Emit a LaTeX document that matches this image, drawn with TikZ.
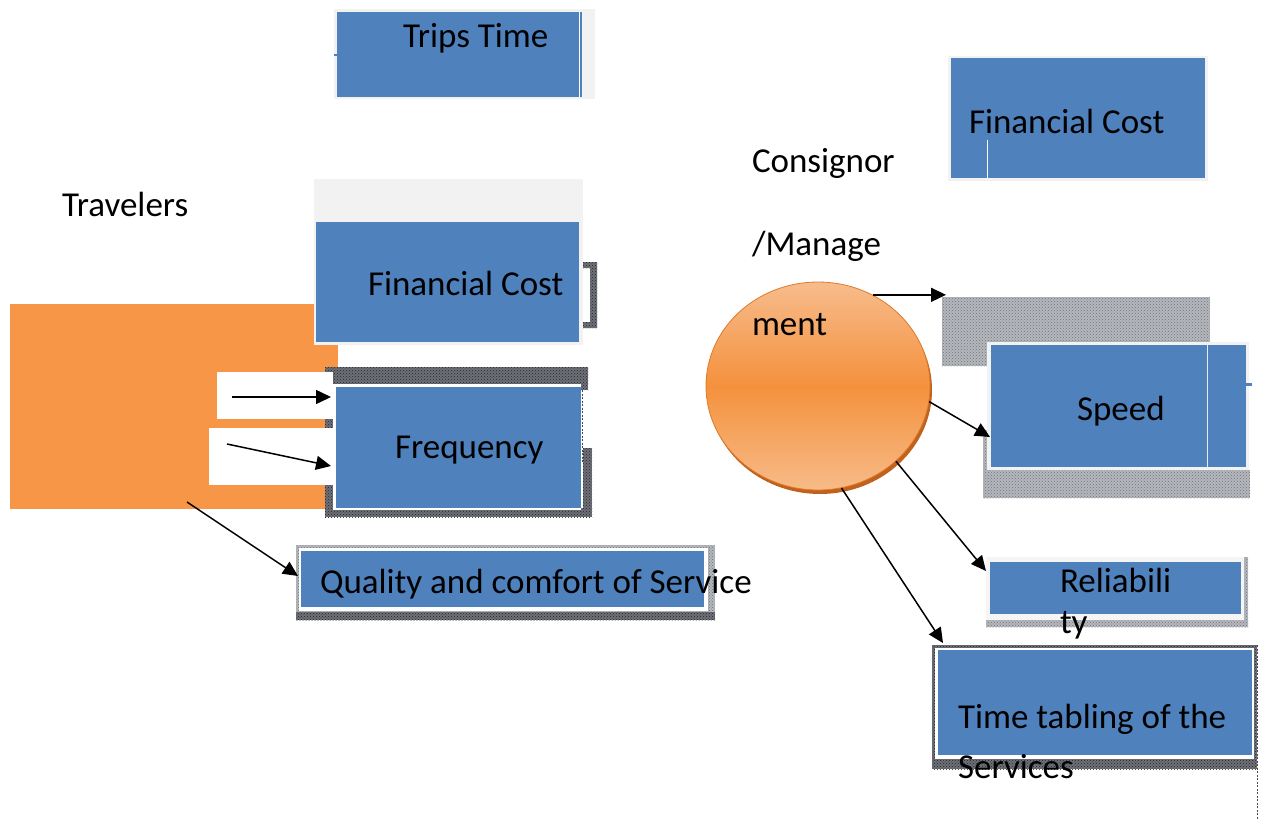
\documentclass[tikz,border=0pt]{standalone}
\usepackage{fontspec}
\setmainfont{Carlito}
\usetikzlibrary{arrows.meta,shapes.geometric,patterns}
\definecolor{boxblue}{HTML}{4F81BD}
\definecolor{paleframe}{HTML}{F2F2F2}
\definecolor{travorange}{HTML}{F79646}
\definecolor{bubbletop}{HTML}{F7BC8C}
\definecolor{bubblemid}{HTML}{F4913D}
\definecolor{bubblebot}{HTML}{F7BB88}
\definecolor{bubbleedge}{HTML}{E07A2A}
\definecolor{bubbleshade}{HTML}{C0621E}
\definecolor{texdark}{HTML}{6E7078}
\definecolor{texlight}{HTML}{B4B7BE}
\begin{document}
\begin{tikzpicture}[x=1pt,y=-1pt,
  rectbox/.style={anchor=north west, inner sep=0pt, outer sep=0pt, draw=none},
  bluebox/.style={rectbox, fill=boxblue},
  palebox/.style={rectbox, fill=paleframe},
  whitebox/.style={rectbox, fill=white},
  darkhatch/.style={fill=texdark, postaction={pattern=crosshatch dots, pattern color=black!85}},
  lighthatch/.style={fill=texlight, postaction={pattern=crosshatch dots, pattern color=black!55}},
  lbl/.style={anchor=base west, inner sep=0pt, outer sep=0pt, font=\fontsize{35}{42}\selectfont},
  conn/.style={draw=black, line width=1.5pt, -{Triangle[length=15pt,width=14pt]}}]
\useasboundingbox (0,0) rectangle (1262,819);

% ---------- Travelers side ----------
\node[palebox, minimum width=261pt, minimum height=90pt] (tripsbg) at (334,9) {};
\node[bluebox, minimum width=245pt, minimum height=85pt] (trips) at (337,12) {};
\fill[white] (578.5,12) rectangle (580,97);
\fill[boxblue] (334,54) rectangle (337,56);
\node[lbl] (tripsT) at (403,47) {Trips Time};

\node[lbl] (travT) at (62,216) {Travelers};

\node[rectbox, fill=travorange, minimum width=328pt, minimum height=205pt] (trav) at (10,304) {};

\node[palebox, minimum width=269pt, minimum height=166pt] (fcLbg) at (314,179) {};
\node[bluebox, minimum width=263pt, minimum height=120pt] (fcL) at (316,222) {};
\node[lbl] (fcLT) at (368,295) {Financial Cost};
% bracket beside the left cost box
\path[darkhatch] (583,262) -- (597,262) -- (597,328) -- (583,328) -- (583,322)
  -- (590,322) -- (590,268) -- (583,268) -- cycle;

% frame round the frequency box
\path[darkhatch] (325,367) rectangle (588,384);
\path[darkhatch] (581,367) rectangle (588,390);
\path[darkhatch] (325,367) rectangle (333,517);
\path[darkhatch] (325,508) rectangle (592,517);
\path[darkhatch] (583,448) rectangle (592,517);
\node[whitebox, minimum width=248pt, minimum height=126pt] (freqbg) at (333,384) {};
\node[bluebox, minimum width=245pt, minimum height=121pt] (freq) at (336,387) {};
\draw[black!70, line width=0.6pt, dash pattern=on 2pt off 1.5pt] (582.5,390) -- (582.5,462);
\node[lbl] (freqT) at (395,458) {Frequency};

\node[whitebox, minimum width=116pt, minimum height=47pt] (wb1) at (217,372) {};
\node[whitebox, minimum width=124pt, minimum height=57pt] (wb2) at (209,428) {};
\coordinate (a1s) at (232,397);
\coordinate (a1e) at (331,397);
\coordinate (a2s) at (227,444);
\coordinate (a2e) at (331,466);
\draw[conn] (a1s) -- (a1e);
\draw[conn] (a2s) -- (a2e);

% quality box
\path[lighthatch] (296,545) rectangle (715,620);
\path[darkhatch] (296,612) rectangle (715,620);
\node[whitebox, minimum width=409pt, minimum height=63pt] (qualbg) at (299,548) {};
\node[bluebox, minimum width=403pt, minimum height=56pt] (qual) at (301,551) {};
\node[lbl] (qualT) at (320,593) {Quality and comfort of Service};
\coordinate (a3s) at (187,502);
\coordinate (a3e) at (298,576);
\draw[conn] (a3s) -- (a3e);

% ---------- Consignor side ----------
\node[lbl] (consT1) at (752,172) {Consignor};
\node[lbl] (consT2) at (752,255) {/Manage};

\node[palebox, minimum width=260pt, minimum height=125pt] (fcRbg) at (948,56) {};
\node[bluebox, minimum width=254pt, minimum height=120pt] (fcR) at (951,58) {};
\fill[white] (986.5,140) rectangle (988,178);
\node[lbl] (fcRT) at (969,133) {Financial Cost};

% speed box and its textured surround
\path[lighthatch] (942,297) rectangle (1210,366);
\path[lighthatch] (983,470) rectangle (1250,498);
\path[lighthatch] (983,430) rectangle (990,498);
\node[palebox, minimum width=262pt, minimum height=128pt] (speedbg) at (987,342) {};
\node[bluebox, minimum width=255pt, minimum height=122pt] (speed) at (991,345) {};
\fill[white!85!boxblue] (1206.5,345) rectangle (1208,467);
\fill[boxblue] (1246,383) rectangle (1252,386);
\node[lbl] (speedT) at (1077,420) {Speed};

% reliability box
\node[rectbox, fill=gray!8, minimum width=262pt, minimum height=71pt] (relbg) at (986,557) {};
\path[lighthatch] (986,620) rectangle (1248,627);
\path[lighthatch] (1244,557) rectangle (1248,627);
\node[bluebox, minimum width=251pt, minimum height=52pt] (rel) at (990,562) {};
\node[lbl] (relT1) at (1060,592) {Reliabili};
\node[lbl] (relT2) at (1060,633) {ty};

% time tabling box
\path[darkhatch] (932,645) rectangle (1257,769);
\node[whitebox, minimum width=319pt, minimum height=111pt] (ttbg) at (935,648) {};
\node[bluebox, minimum width=314pt, minimum height=105pt] (tt) at (938,650) {};
\draw[black!70, line width=0.8pt, dash pattern=on 2pt off 1.5pt] (1257,645) -- (1257,819);
\node[lbl] (ttT1) at (958,728) {Time tabling of the};
\node[lbl] (ttT2) at (958,778) {Services};

% consignor bubble with its shadow
\node[ellipse, inner sep=0pt, minimum width=224pt, minimum height=208pt,
      fill=bubbleshade] (consshadow) at (820,390) {};
\node[ellipse, inner sep=0pt, minimum width=224pt, minimum height=208pt,
      draw=bubbleedge, line width=0.8pt,
      top color=bubbletop, bottom color=bubblebot, middle color=bubblemid] (cons) at (818,386) {};
\node[lbl] (consT3) at (752,335) {ment};

\coordinate (tipA) at (946,294);
\coordinate (tipB) at (990,437);
\coordinate (tipC) at (986,571);
\coordinate (tipD) at (943,643);
\draw[conn] (cons.59) -- (cons.59 -| tipA);
\draw[conn] (cons.-8) -- (tipB);
\draw[conn] (cons.-44) -- (tipC);
\draw[conn] (cons.-77) -- (tipD);
\end{tikzpicture}
\end{document}
